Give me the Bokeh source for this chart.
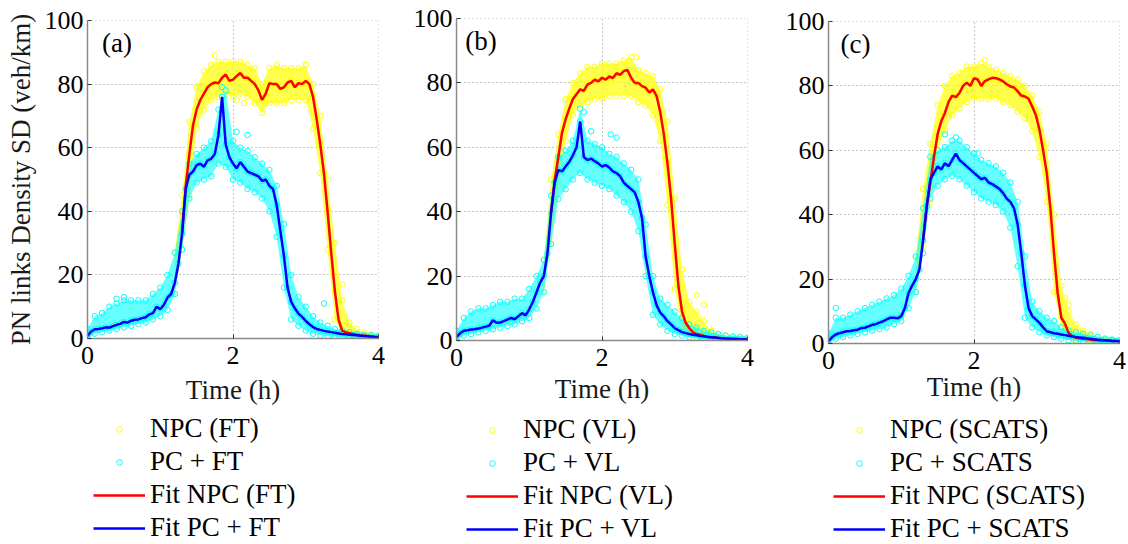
from bokeh.plotting import figure
from bokeh.models import Range1d, FixedTicker, Legend, LegendItem, Label, Span
from bokeh.layouts import row, column
from bokeh.embed import file_html
from bokeh.resources import INLINE

# ---- sampling grids (hours) ----
T_FIT = [round(0.05 * i, 2) for i in range(81)]      # 0.00 .. 4.00
T_CLOUD = [round(0.1 * i, 1) for i in range(41)]      # 0.0 .. 4.0
T_FIT_NPC = T_FIT[26:]                               # 1.30 .. 4.00
T_CLOUD_NPC = T_CLOUD[12:]                           # 1.2 .. 4.0

# ---- (a) FT ----
a_pc_fit = [0.8, 2.2, 2.9, 3.0, 3.2, 3.5, 3.4, 3.9, 4.3, 4.6, 5.2, 5.0, 5.6, 5.9, 6.0, 6.4, 6.7, 7.6, 8.0, 10.0,
            9.2, 10.6, 12.9, 14.0, 17.5, 23.5, 33.0, 47.0, 51.5, 52.5, 54.5, 55.0, 54.0, 56.0, 56.5, 58.0, 64.0, 76.0, 61.0, 57.0,
            55.0, 53.5, 55.5, 54.0, 52.5, 52.0, 51.5, 51.0, 49.5, 50.0, 48.0, 47.0, 42.0, 34.0, 26.0, 16.0, 11.5, 9.5, 7.8, 6.8,
            5.5, 4.5, 3.6, 3.0, 2.7, 2.4, 2.2, 2.0, 1.8, 1.6, 1.4, 1.3, 1.2, 1.1, 1.0, 0.9, 0.8, 0.7, 0.6, 0.5, 0.4]
a_npc_fit = [33.0, 48.0, 58.0, 67.0, 72.0, 75.0, 77.0, 79.0, 80.0, 80.5, 80.3, 82.0, 83.0, 81.0, 81.4, 82.5, 83.5, 82.0, 82.0, 81.0,
             80.0, 78.0, 75.0, 77.0, 80.3, 80.0, 80.0, 78.5, 79.0, 80.5, 81.0, 79.0, 80.3, 80.0, 81.0, 80.0, 76.0, 69.0, 61.0, 52.0,
             40.0, 27.0, 15.0, 6.0, 2.5, 2.0, 1.7, 1.4, 1.2, 1.0, 0.9, 0.8, 0.6, 0.5, 0.4]
a_pc_lo = [0, 1.5, 2, 2.5, 3, 3.5, 4, 4.5, 5, 6, 7, 9, 14, 28, 44, 49, 50, 51, 55, 54, 50,
           49, 47, 46, 44, 40, 32, 16, 6, 4, 2.5, 1.5, 1, 0.7, 0.5, 0.3, 0.2, 0.1, 0, 0, 0]
a_pc_hi = [3, 7, 8, 10, 11, 12, 12, 12, 12, 14, 16, 20, 27, 40, 55, 58, 60, 62, 72, 78, 62,
           60, 59, 57, 55, 53, 48, 36, 20, 13, 10, 7, 5, 4, 3, 2.5, 2, 1.5, 1.2, 1, 0.8]
a_npc_lo = [14, 28, 45, 66, 72, 75, 76, 77, 76, 77, 76, 74, 71, 74, 74, 74, 75, 75, 75, 66,
            52, 28, 6, 1.5, 0.8, 0.5, 0.3, 0.2, 0.1]
a_npc_hi = [27, 45, 68, 79, 84, 86, 87, 87, 87, 87, 86, 85, 80, 85, 86, 85, 85, 85, 86, 80,
            70, 50, 30, 12, 5, 3, 2, 1.5, 1]
a_pc_out_t = [2.05, 2.2, 3.25, 1.85, 0.4, 0.5]
a_pc_out_y = [65, 64, 11, 79, 12.5, 13]
a_npc_out_t = [1.75, 2.05, 2.15, 3.5]
a_npc_out_y = [89, 75, 74, 17]

# ---- (b) VL ----
b_pc_fit = [1.0, 2.3, 3.0, 3.2, 3.4, 3.5, 3.7, 4.0, 4.3, 4.6, 6.3, 5.5, 5.6, 6.0, 6.5, 7.0, 6.6, 7.5, 8.5, 7.8,
            9.7, 12.0, 15.0, 18.0, 20.0, 27.0, 39.7, 49.0, 53.0, 52.5, 54.0, 55.5, 57.5, 60.0, 68.0, 57.0, 56.0, 56.5, 55.7, 55.0,
            54.0, 54.5, 53.7, 52.5, 52.0, 51.0, 49.0, 48.0, 47.0, 46.0, 43.0, 38.0, 26.0, 20.0, 15.0, 11.0, 8.7, 7.5, 6.0, 5.0,
            3.8, 3.2, 2.6, 2.3, 2.0, 1.8, 1.6, 1.4, 1.3, 1.1, 1.0, 0.9, 0.8, 0.7, 0.6, 0.55, 0.5, 0.45, 0.4, 0.35, 0.3]
b_npc_fit = [39.7, 50.0, 57.0, 64.5, 68.7, 72.0, 75.0, 76.5, 78.0, 77.5, 79.5, 80.0, 81.0, 80.5, 81.6, 81.0, 82.0, 81.5, 83.0, 82.5,
             83.7, 84.0, 81.6, 80.0, 80.0, 79.0, 78.5, 77.0, 78.0, 76.0, 71.0, 64.0, 55.0, 44.0, 30.0, 17.0, 9.0, 5.5, 3.8, 2.6,
             2.0, 1.7, 1.4, 1.2, 1.0, 0.9, 0.8, 0.7, 0.6, 0.55, 0.5, 0.45, 0.4, 0.35, 0.3]
b_pc_lo = [0, 1.5, 2, 2.5, 3, 3.5, 4, 4.5, 5, 6, 7, 10, 15, 30, 44, 47, 50, 52, 50, 49, 48,
           47, 45, 43, 40, 34, 20, 8, 5, 3, 2, 1.5, 1, 0.6, 0.4, 0.3, 0.2, 0.1, 0, 0, 0]
b_pc_hi = [3, 7, 9, 10, 10, 11, 12, 12, 13, 13, 16, 20, 25, 45, 57, 59, 62, 72, 62, 61, 60,
           58, 57, 55, 53, 50, 36, 20, 13, 11, 9, 7, 5, 4, 3, 2.5, 2, 1.5, 1.2, 1, 0.8]
b_npc_lo = [15, 30, 48, 62, 70, 73, 74, 75, 75, 76, 76, 76, 76, 74, 73, 70, 62, 42, 16, 4,
            2, 1, 0.7, 0.5, 0.3, 0.2, 0.1, 0.1, 0]
b_npc_hi = [25, 50, 64, 75, 80, 83, 85, 85, 86, 86, 86, 87, 88, 84, 83, 82, 78, 68, 44, 22,
            12, 9, 6, 3, 2, 1.5, 1.2, 1, 0.8]
b_pc_out_t = [1.75, 2.12, 2.2, 1.85]
b_pc_out_y = [71, 64, 63, 65]
b_npc_out_t = [2.47, 3.3, 3.4]
b_npc_out_y = [88, 14, 11]

# ---- (c) SCATS ----
c_pc_fit = [0.7, 2.0, 2.8, 3.2, 3.5, 3.8, 3.9, 4.1, 4.3, 4.8, 4.9, 5.3, 5.8, 6.0, 6.5, 6.9, 7.5, 8.0, 8.0, 7.8,
            8.5, 11.0, 15.7, 18.0, 20.0, 23.0, 32.0, 42.6, 51.0, 53.0, 55.0, 54.0, 56.0, 55.0, 57.0, 59.0, 57.0, 56.0, 55.0, 54.0,
            53.0, 52.0, 51.0, 51.5, 50.0, 49.5, 48.8, 48.0, 46.7, 45.0, 44.0, 42.0, 37.0, 28.0, 18.0, 11.0, 8.5, 7.5, 6.4, 5.0,
            3.8, 3.5, 3.2, 3.0, 2.8, 2.6, 2.4, 2.2, 2.0, 1.9, 1.8, 1.6, 1.5, 1.3, 1.2, 1.1, 1.0, 0.9, 0.8, 0.75, 0.7]
c_npc_fit = [32.0, 42.6, 50.0, 58.0, 65.0, 69.0, 71.6, 75.0, 77.0, 76.5, 77.8, 80.0, 81.0, 80.0, 82.4, 82.0, 80.0, 81.5, 82.0, 82.5,
             82.4, 82.0, 81.4, 80.5, 79.8, 79.5, 78.3, 77.0, 76.7, 76.0, 73.6, 71.0, 66.4, 60.0, 53.0, 42.0, 28.0, 15.7, 8.0, 6.2,
             3.3, 2.3, 1.8, 1.6, 1.5, 1.4, 1.2, 1.1, 1.0, 0.95, 0.9, 0.85, 0.8, 0.75, 0.7]
c_pc_lo = [0, 1.5, 2, 2.5, 3, 3.5, 4, 4.5, 5, 6, 7, 11, 16, 28, 45, 49, 51, 52, 51, 49, 47,
           45, 44, 43, 41, 36, 24, 8, 5, 3.5, 2.5, 2, 1.5, 1, 0.8, 0.6, 0.4, 0.3, 0.2, 0.1, 0]
c_pc_hi = [3, 8, 8, 9, 10, 11, 12, 13, 14, 15, 17, 21, 27, 42, 58, 60, 61, 63, 63, 61, 59,
           57, 56, 55, 53, 50, 44, 27, 13, 10, 8, 7, 5, 4, 3.5, 3, 2.5, 2, 1.5, 1.2, 1]
c_npc_lo = [16, 30, 44, 60, 66, 71, 73, 75, 76, 76, 76, 76, 75, 74, 72, 70, 66, 58, 44, 16,
            5, 2, 1, 0.7, 0.5, 0.3, 0.2, 0.1, 0]
c_npc_hi = [27, 48, 62, 74, 80, 83, 84, 86, 86, 87, 86, 85, 84, 83, 82, 80, 77, 72, 62, 40,
            18, 10, 6, 4, 3, 2, 1.5, 1.2, 1]
c_pc_out_t = [0.1, 1.75, 1.6, 2.05]
c_pc_out_y = [11, 64, 65, 59]
c_npc_out_t = [2.15, 3.3, 3.25]
c_npc_out_y = [88, 12, 14]

TAGS = ["(a)", "(b)", "(c)"]
SCHEMES = ["FT", "VL", "SCATS"]
X_TICKS = [0, 2, 4]
Y_TICKS = [0, 20, 40, 60, 80, 100]

YELLOW = "#FFFF00"
CYAN = "#00FFFF"
RED = "#FF0000"
BLUE = "#0000FF"
FONT = "'Liberation Serif', 'Times New Roman', serif"
GRID = "#8c8c8c"
MS = 5.5


def open_circles(p, x, y, color):
    return p.scatter(x, y, marker="circle", size=MS, fill_color=None, line_color=color, line_width=1)


def make_panel(i, pc_fit, npc_fit, pc_lo, pc_hi, npc_lo, npc_hi, pc_out, npc_out, lay):
    W, left, top, fh, H, xl_standoff, tag_x = lay
    right = W - left - 291
    bottom = H - top - fh
    p = figure(width=W, height=H, frame_width=291, frame_height=fh,
               min_border_left=left, min_border_right=right,
               min_border_top=top, min_border_bottom=bottom,
               x_range=Range1d(0, 4), y_range=Range1d(0, 100),
               output_backend="svg", toolbar_location=None,
               outline_line_color=None)

    # NPC cloud
    p.varea(x=T_CLOUD_NPC, y1=npc_lo, y2=npc_hi, fill_color=YELLOW, fill_alpha=0.7)
    open_circles(p, T_CLOUD_NPC, npc_lo, YELLOW)
    open_circles(p, T_CLOUD_NPC, npc_hi, YELLOW)
    open_circles(p, T_FIT_NPC, npc_fit, YELLOW)
    open_circles(p, npc_out[0], npc_out[1], YELLOW)

    # PC cloud
    p.varea(x=T_CLOUD, y1=pc_lo, y2=pc_hi, fill_color=CYAN, fill_alpha=0.6)
    open_circles(p, T_CLOUD, pc_lo, CYAN)
    open_circles(p, T_CLOUD, pc_hi, CYAN)
    open_circles(p, T_FIT, pc_fit, CYAN)
    open_circles(p, pc_out[0], pc_out[1], CYAN)

    p.line(T_FIT_NPC, npc_fit, line_color=RED, line_width=2.5)
    p.line(T_FIT, pc_fit, line_color=BLUE, line_width=2.5)

    # axes
    p.xaxis.ticker = FixedTicker(ticks=X_TICKS)
    p.yaxis.ticker = FixedTicker(ticks=Y_TICKS)
    for ax in (p.xaxis[0], p.yaxis[0]):
        ax.axis_line_color = "#8a8a8a"
        ax.axis_line_width = 1.5
        ax.major_tick_in = 4
        ax.major_tick_out = 0
        ax.major_tick_line_color = "#333333"
        ax.minor_tick_line_color = None
        ax.major_label_text_font = FONT
        ax.major_label_text_font_size = "26px"
        ax.major_label_text_color = "#000000"
        ax.axis_label_text_font = FONT
        ax.axis_label_text_font_size = "27px"
        ax.axis_label_text_font_style = "normal"
        ax.axis_label_text_color = "#1a1a1a"
    p.xaxis.major_label_standoff = 8
    p.yaxis.major_label_standoff = 4
    p.xaxis.axis_label = "Time (h)"
    p.xaxis.axis_label_standoff = xl_standoff
    if i == 0:
        p.yaxis.axis_label = "PN links Density SD (veh/km)"
        p.yaxis.axis_label_standoff = 6

    for g in (p.xgrid[0], p.ygrid[0]):
        g.grid_line_color = GRID
        g.grid_line_dash = "1 3"
        g.grid_line_width = 1
    p.xgrid.ticker = FixedTicker(ticks=X_TICKS)
    p.ygrid.ticker = FixedTicker(ticks=Y_TICKS)
    p.add_layout(Span(location=Y_TICKS[-1], dimension="width", line_color=GRID, line_dash="1 3", line_width=1))
    p.add_layout(Span(location=X_TICKS[-1], dimension="height", line_color=GRID, line_dash="1 3", line_width=1))

    p.add_layout(Label(x=tag_x, y=93, text=TAGS[i], text_font=FONT, text_font_size="27px",
                       text_baseline="middle", text_align="left", text_color="#000000"))
    return p


def make_legend(i, W, H, loc, pc_fit, npc_fit):
    # the series are drawn outside this figure's visible range; only their legend glyphs show
    q = figure(width=W, height=H, min_border=0, x_range=Range1d(10, 11), y_range=Range1d(200, 201),
               x_axis_location=None, y_axis_location=None, output_backend="svg",
               toolbar_location=None, outline_line_color=None)
    q.grid.visible = False
    r1 = q.scatter(T_FIT_NPC, npc_fit, marker="circle", size=MS, fill_color=None, line_color=YELLOW)
    r2 = q.scatter(T_FIT, pc_fit, marker="circle", size=MS, fill_color=None, line_color=CYAN)
    r3 = q.line(T_FIT_NPC, npc_fit, line_color=RED, line_width=2.5)
    r4 = q.line(T_FIT, pc_fit, line_color=BLUE, line_width=2.5)
    s = SCHEMES[i]
    legend = Legend(items=[
        LegendItem(label="NPC (%s)" % s, renderers=[r1]),
        LegendItem(label="PC + %s" % s, renderers=[r2]),
        LegendItem(label="Fit NPC (%s)" % s, renderers=[r3]),
        LegendItem(label="Fit PC + %s" % s, renderers=[r4]),
    ], location=loc, orientation="vertical", glyph_width=52, glyph_height=14,
        label_standoff=5, spacing=2, padding=0, margin=0,
        border_line_color=None, background_fill_alpha=0,
        label_text_font=FONT, label_text_font_size="27px", label_text_color="#000000")
    q.add_layout(legend)
    return q


TOP_H = 414
LEG_H = 130

pa = make_panel(0, a_pc_fit, a_npc_fit, a_pc_lo, a_pc_hi, a_npc_lo, a_npc_hi,
                (a_pc_out_t, a_pc_out_y), (a_npc_out_t, a_npc_out_y),
                (400, 87, 20, 318, TOP_H, 8, 0.2))
pb = make_panel(1, b_pc_fit, b_npc_fit, b_pc_lo, b_pc_hi, b_npc_lo, b_npc_hi,
                (b_pc_out_t, b_pc_out_y), (b_npc_out_t, b_npc_out_y),
                (380, 56, 18, 322, TOP_H, 5, 0.12))
pc = make_panel(2, c_pc_fit, c_npc_fit, c_pc_lo, c_pc_hi, c_npc_lo, c_npc_hi,
                (c_pc_out_t, c_pc_out_y), (c_npc_out_t, c_npc_out_y),
                (348, 48, 21, 322, TOP_H, 0, 0.165))

la = make_legend(0, 400, LEG_H, (6, 1), a_pc_fit, a_npc_fit)
lb = make_legend(1, 380, LEG_H, (10, 0), b_pc_fit, b_npc_fit)
lc = make_legend(2, 348, LEG_H, (5, 0), c_pc_fit, c_npc_fit)

layout = row(column(pa, la), column(pb, lb), column(pc, lc))
open("out.html", "w").write(file_html(layout, INLINE))
